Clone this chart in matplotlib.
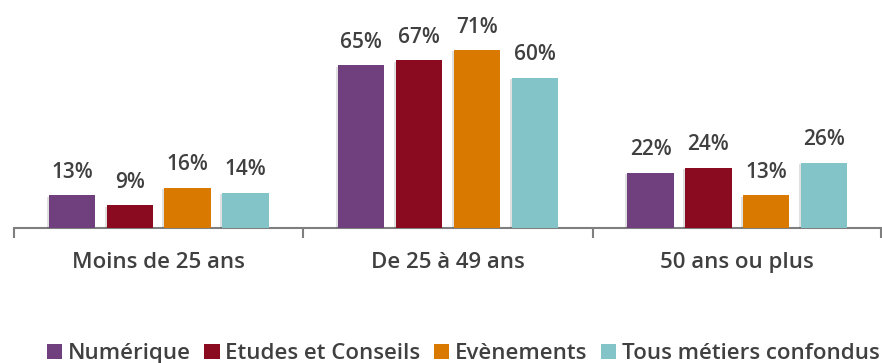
import numpy as np
import matplotlib.pyplot as plt
import matplotlib.patheffects as pe

categories = ["Moins de 25 ans", "De 25 à 49 ans", "50 ans ou plus"]
series = ["Numérique", "Etudes et Conseils", "Evènements", "Tous métiers confondus"]
numerique = [13, 65, 22]
etudes = [9, 67, 24]
evenements = [16, 71, 13]
tous = [14, 60, 26]
colors = ["#6F3F7E", "#8A0B1F", "#D97900", "#83C4C8"]

plt.rcParams['font.family'] = ['Open Sans', 'DejaVu Sans']
txt = "#404040"

fig = plt.figure(figsize=(8.82, 3.63), dpi=100)
ax = fig.add_axes([14/882, 135/363, 868/882, 228/363])

x = np.arange(len(categories))
w = 0.16
step = 0.2
values = [numerique, etudes, evenements, tous]
handles = []
for i, (name, vals, c) in enumerate(zip(series, values, colors)):
    pos = x + (i - 1.5) * step
    bars = ax.bar(pos, vals, width=w, color=c, label=name, zorder=3)
    for b in bars:
        b.set_path_effects([pe.SimplePatchShadow(offset=(-1.5, -1), shadow_rgbFace='#000000', alpha=0.12), pe.Normal()])
    for p, v in zip(pos, vals):
        ax.annotate(f"{v}%", (p, v), xytext=(0, 9), textcoords="offset points",
                    ha="center", va="bottom", fontsize=15, color=txt, fontweight="semibold")
    handles.append(bars)

ax.set_xlim(-0.5, 2.5)
ax.set_ylim(0, 91)
ax.set_yticks([])
for s in ["top", "right", "left"]:
    ax.spines[s].set_visible(False)
ax.spines["bottom"].set_color("#7F7F7F")
ax.spines["bottom"].set_linewidth(1.5)
ax.set_xticks([-0.5, 0.5, 1.5, 2.495])
ax.set_xticklabels([])
ax.tick_params(axis="x", direction="out", length=7, width=1.5, color="#7F7F7F")
for xi, cat in zip(x, categories):
    ax.text(xi, -0.15, cat, transform=ax.get_xaxis_transform(), ha="center", va="center",
            fontsize=16, color=txt, fontweight="semibold")

leg = fig.legend(handles=handles, labels=series, loc="center", bbox_to_anchor=(0.525, 0.025),
                 ncol=4, frameon=False, handlelength=0.7, handleheight=0.7,
                 handletextpad=0.25, columnspacing=0.6, labelcolor=txt,
                 prop={"weight": "semibold", "size": 16})
for h in leg.legend_handles:
    h.set_path_effects([])

fig.savefig("out.png", dpi=100)
